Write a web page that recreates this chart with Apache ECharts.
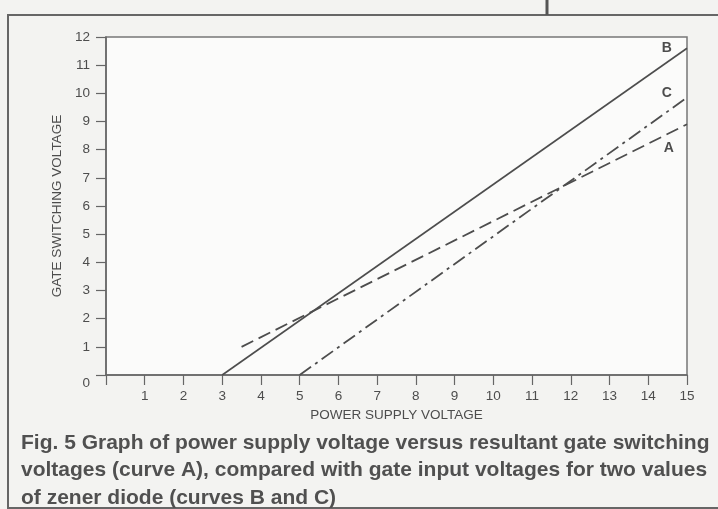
<!DOCTYPE html>
<html>
<head>
<meta charset="utf-8">
<script src="https://cdn.jsdelivr.net/npm/echarts@6/dist/echarts.min.js"></script>
<style>
  html, body { margin: 0; padding: 0; background: #f3f3f1; }
  #chart { width: 718px; height: 509px; }
</style>
</head>
<body>
<div id="chart"></div>
<script>
// power supply voltage (x) vs gate voltage (y)
const curveA = [[3.5, 1], [15, 8.9]];
const curveB = [[3, 0], [15, 11.6]];
const curveC = [[5, 0], [15, 9.85]];
const curveNames = ['A', 'B', 'C'];

const ink = '#4d4d4d';
const font = '"Liberation Sans Narrow", "Liberation Sans", Arial, sans-serif';

let chart = echarts.init(document.getElementById('chart'));

function lastLabel(pts, name, offset) {
    let out = pts.map(p => p.slice());
    out[out.length - 1] = {
        value: pts[pts.length - 1],
        label: { show: true, formatter: name, position: 'left', offset: offset,
                 color: ink, fontSize: 14, fontWeight: 'bold', fontFamily: font }
    };
    return out;
}

const option = {
    backgroundColor: '#f3f3f1',
    animation: false,
    title: {
        text: 'Fig. 5 Graph of power supply voltage versus resultant gate switching\nvoltages (curve A), compared with gate input voltages for two values\nof zener diode (curves B and C)',
        left: 16,
        top: 424,
        textStyle: { color: '#505050', fontSize: 21, fontWeight: 'bold', fontFamily: font, lineHeight: 27.5 }
    },
    grid: {
        left: 106, right: 31, top: 37, bottom: 134,
        show: true, backgroundColor: '#fbfbfa', borderColor: '#777', borderWidth: 1.5
    },
    xAxis: {
        type: 'value', min: 0, max: 15, interval: 1,
        name: 'POWER SUPPLY VOLTAGE', nameLocation: 'middle', nameGap: 33,
        nameTextStyle: { color: ink, fontSize: 13.5, fontFamily: font },
        axisLine: { lineStyle: { color: '#666', width: 1.5 } },
        axisTick: { length: 10, lineStyle: { color: '#666', width: 1.2 } },
        axisLabel: { color: ink, fontSize: 13.5, fontFamily: font, margin: 14,
                     formatter: v => v === 0 ? '' : v },
        splitLine: { show: false }
    },
    yAxis: {
        type: 'value', min: 0, max: 12, interval: 1,
        name: 'GATE SWITCHING VOLTAGE', nameLocation: 'middle', nameGap: 38,
        nameTextStyle: { color: ink, fontSize: 13.5, fontFamily: font },
        axisLine: { lineStyle: { color: '#666', width: 1.5 } },
        axisTick: { length: 10, lineStyle: { color: '#666', width: 1.2 } },
        axisLabel: { color: ink, fontSize: 13.5, fontFamily: font, margin: 16,
                     formatter: v => v === 0 ? '{z|0}' : String(v),
                     rich: { z: { color: ink, fontSize: 13.5, fontFamily: font, padding: [16, 0, 0, 0] } } },
        splitLine: { show: false }
    },
    series: [
        {
            name: curveNames[0], type: 'line', data: lastLabel(curveA, 'A', [-8, 24]),
            symbol: 'circle', symbolSize: 0.1, showSymbol: true, itemStyle: { color: ink },
            lineStyle: { color: ink, width: 1.8, type: [13, 6] }
        },
        {
            name: curveNames[1], type: 'line', data: lastLabel(curveB, 'B', [-10, 0]),
            symbol: 'circle', symbolSize: 0.1, showSymbol: true, itemStyle: { color: ink },
            lineStyle: { color: ink, width: 1.6, type: 'solid' }
        },
        {
            name: curveNames[2], type: 'line', data: lastLabel(curveC, 'C', [-10, -4]),
            symbol: 'circle', symbolSize: 0.1, showSymbol: true, itemStyle: { color: ink },
            lineStyle: { color: ink, width: 1.8, type: [14, 5, 3, 5] }
        }
    ],
    graphic: [
        { type: 'rect', shape: { x: 8, y: 15, width: 730, height: 493 },
          style: { fill: 'none', stroke: '#666', lineWidth: 2 }, silent: true },
        { type: 'line', shape: { x1: 547, y1: 0, x2: 547, y2: 15 },
          style: { stroke: '#555', lineWidth: 3 }, silent: true }
    ]
};

chart.setOption(option);

window.addEventListener('resize', function () {
    chart.resize();
});
</script>
</body>
</html>
